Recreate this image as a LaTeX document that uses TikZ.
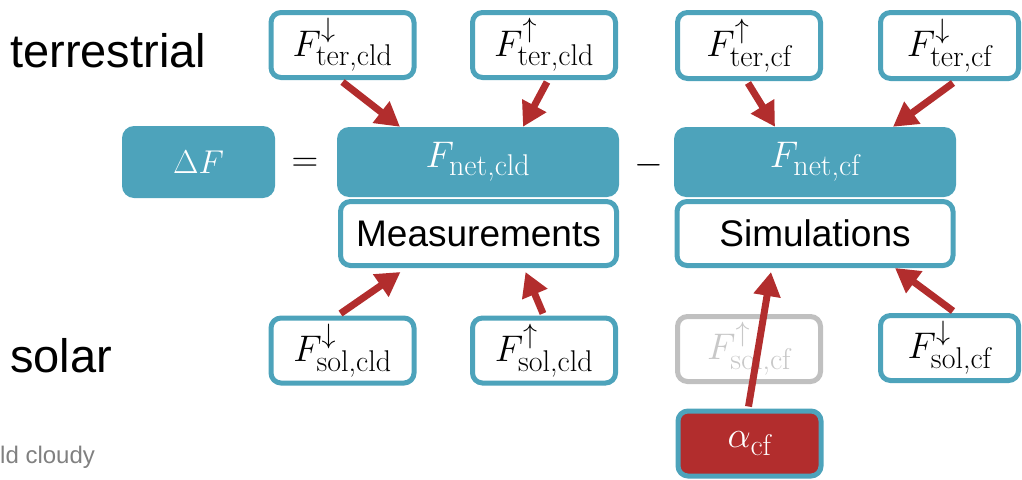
\RequirePackage{fix-cm}
\documentclass[tikz,border=0pt]{standalone}
\usepackage{fontspec}
\newfontfamily\arialf{Liberation Sans}
\usetikzlibrary{arrows.meta}
\DeclareMathSizes{37}{37}{28}{20}
\DeclareMathSizes{33}{33}{24}{17}
\definecolor{tealc}{RGB}{77,163,187}
\definecolor{redc}{RGB}{178,45,45}
\definecolor{greyb}{RGB}{192,192,192}
\definecolor{greyt}{RGB}{200,200,200}
\definecolor{greytxt}{RGB}{128,128,128}
\newcommand\mathsz{\fontsize{37}{40}\selectfont}
\newcommand\labsz{\arialf\fontsize{47}{52}\selectfont}
\newcommand\boxsz{\arialf\fontsize{37}{42}\selectfont}
\newcommand\subtx[1]{\hbox{\fontsize{30}{32}\selectfont\rmfamily #1}}
\tikzset{
  fluxbox/.style={draw=tealc, line width=5pt, fill=white, rounded corners=10pt,
    minimum width=143pt, minimum height=65pt, inner sep=0pt, font=\mathsz},
  greybox/.style={fluxbox, draw=greyb, text=greyt},
  alphabox/.style={fluxbox, fill=redc, text=white},
  netbox/.style={fill=tealc, rounded corners=12pt, minimum width=282pt,
    minimum height=70pt, inner sep=0pt, text=white, font=\mathsz},
  srcbox/.style={draw=tealc, line width=5pt, fill=white, rounded corners=10pt,
    minimum width=276pt, minimum height=64pt, inner sep=0pt, font=\boxsz},
  arr/.style={draw=redc, line width=7pt, -{Triangle[length=24pt,width=26pt]}},
  sym/.style={font=\mathsz, inner sep=0pt}
}
\begin{document}
\begin{tikzpicture}[x=1pt,y=-1pt]
\useasboundingbox (0,0) rectangle (1022,479);
% labels
\node[anchor=base west, font=\labsz, inner sep=0pt] (lter) at (10,67) {terrestrial};
\node[anchor=base west, font=\labsz, inner sep=0pt] (lsol) at (10,372) {solar};
\node[anchor=base west, font=\arialf\fontsize{24}{28}\selectfont, text=greytxt, inner sep=0pt] (lcld) at (0,463) {ld cloudy};
% top row
\node[fluxbox] (tcd) at (342.5,45) {$F^{\downarrow}_{\subtx{ter,cld}}$};
\node[fluxbox] (tcu) at (544,45) {$F^{\uparrow}_{\subtx{ter,cld}}$};
\node[fluxbox, minimum height=66pt] (tfu) at (749,45.5) {$F^{\uparrow}_{\subtx{ter,cf}}$};
\node[fluxbox, minimum width=138pt, minimum height=66pt] (tfd) at (949.5,45.5) {$F^{\downarrow}_{\subtx{ter,cf}}$};
% middle row
\node[netbox, minimum width=153pt, minimum height=72pt, font=\fontsize{33}{36}\selectfont] (dF) at (198.5,162) {$\Delta F$};
\node[sym] (eq) at (305,165) {$=$};
\node[netbox] (netcld) at (478,162) {$F_{\subtx{net,cld}}$};
\node[sym] (mi) at (649,165) {$-$};
\node[netbox] (netcf) at (815,162) {$F_{\subtx{net,cf}}$};
\node[srcbox] (meas) at (478.5,233.5) {Measurements};
\node[srcbox] (sim) at (815,233.5) {Simulations};
% bottom row
\node[fluxbox] (scd) at (342.5,350.5) {$F^{\downarrow}_{\subtx{sol,cld}}$};
\node[fluxbox] (scu) at (544,350.5) {$F^{\uparrow}_{\subtx{sol,cld}}$};
\node[greybox] (sfu) at (749,349) {$F^{\uparrow}_{\subtx{sol,cf}}$};
\node[fluxbox, minimum width=138pt] (sfd) at (949.5,348) {$F^{\downarrow}_{\subtx{sol,cf}}$};
\node[alphabox] (alpha) at (749.5,443.5) {$\alpha_{\subtx{cf}}$};
% arrows
\draw[arr] ([yshift=-2pt]tcd.south) -- ([xshift=-78pt]netcld.north);
\draw[arr] ([xshift=3pt,yshift=-2pt]tcu.south) -- ([xshift=45pt]netcld.north);
\draw[arr] ([xshift=-1pt,yshift=-2pt]tfu.south) -- ([xshift=-40pt]netcf.north);
\draw[arr] ([xshift=3.5pt,yshift=-2pt]tfd.south) -- ([xshift=78pt]netcf.north);
\draw[arr] ([xshift=-2pt,yshift=2pt]scd.north) -- ([xshift=-78pt,yshift=-4pt]meas.south);
\draw[arr] ([xshift=-1pt,yshift=2pt]scu.north) -- ([xshift=47pt,yshift=-4pt]meas.south);
\draw[arr] ([xshift=-1pt,yshift=2pt]alpha.north) -- ([xshift=-44pt,yshift=-4pt]sim.south);
\draw[arr] ([xshift=3.5pt,yshift=2pt]sfd.north) -- ([xshift=80pt]sim.south);
\end{tikzpicture}
\end{document}
